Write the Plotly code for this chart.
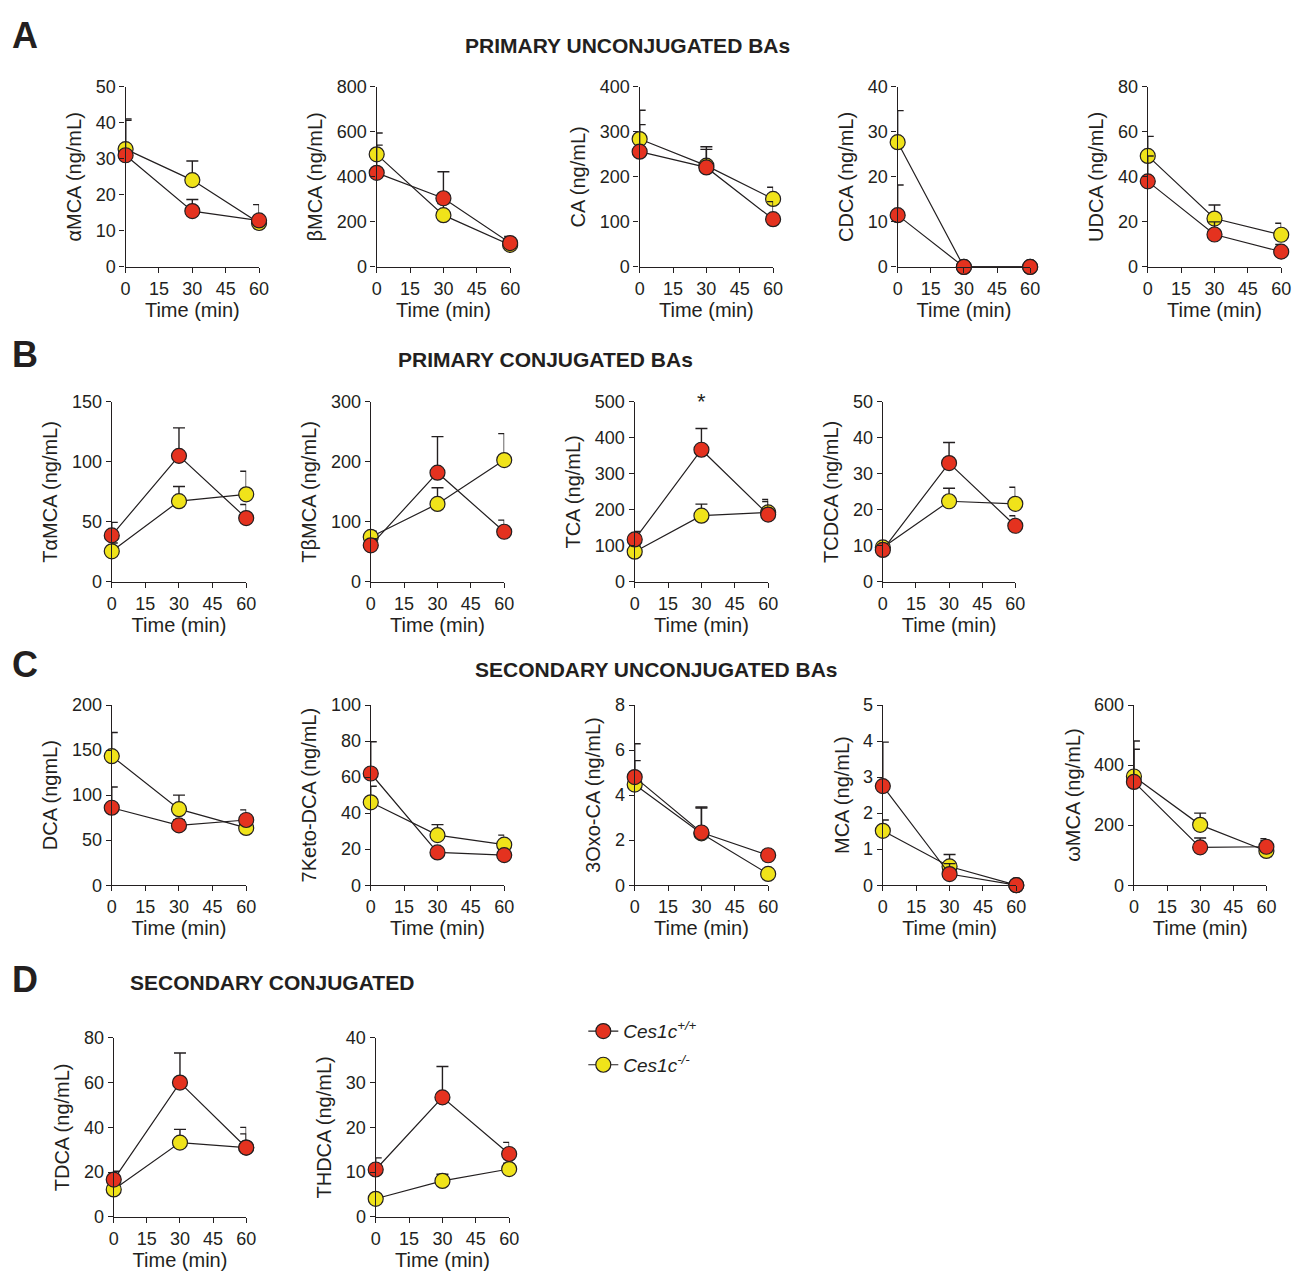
import plotly.graph_objects as go

W, H = 1310, 1288
INK = "#231F20"
RED = "#E4321F"
YEL = "#F0E31A"
FONT = "Liberation Sans, Arial, sans-serif"

TIME = [0, 30, 60]
TIME_TICKS = [0, 15, 30, 45, 60]

# ---- data: means and SEM (upper error) ----
aMCA_wt = [31.0, 15.5, 12.9];   aMCA_wt_sem = [9.7, 3.2, 4.4]
aMCA_ko = [32.7, 24.1, 12.2];   aMCA_ko_sem = [8.4, 5.3, 1.8]
bMCA_wt = [418, 305, 106];      bMCA_wt_sem = [123, 118, 29]
bMCA_ko = [500, 230, 98];       bMCA_ko_sem = [95, 52, 8]
CA_wt = [256, 221, 106];        CA_wt_sem = [60, 40, 39]
CA_ko = [284, 225, 151];        CA_ko_sem = [64, 42, 26]
CDCA_wt = [11.5, 0, 0];         CDCA_wt_sem = [6.7, 0, 0]
CDCA_ko = [27.7, 0, 0];         CDCA_ko_sem = [7.0, 0, 0]
UDCA_wt = [38.0, 14.4, 6.8];    UDCA_wt_sem = [11.3, 5.6, 3.2]
UDCA_ko = [49.3, 21.5, 14.3];   UDCA_ko_sem = [8.7, 6.0, 5.1]

TaMCA_wt = [38.8, 105, 53.2];   TaMCA_wt_sem = [10.8, 23.3, 11.3]
TaMCA_ko = [25.5, 67.3, 73.0];  TaMCA_ko_sem = [7.0, 12.2, 19.2]
TbMCA_wt = [61, 182, 83.6];     TbMCA_wt_sem = [11, 60, 19.4]
TbMCA_ko = [75, 130, 203];      TbMCA_ko_sem = [9.6, 27, 44]
TCA_wt = [118, 367, 187];       TCA_wt_sem = [22, 59, 42]
TCA_ko = [84, 184, 193];        TCA_ko_sem = [16, 32, 30]
TCDCA_wt = [8.9, 33.0, 15.6];   TCDCA_wt_sem = [1.0, 5.7, 2.8]
TCDCA_ko = [9.6, 22.4, 21.7];   TCDCA_ko_sem = [0.8, 3.6, 4.6]

DCA_wt = [86, 66.4, 72.4];      DCA_wt_sem = [23, 6, 11.2]
DCA_ko = [143.3, 84.4, 63.6];   DCA_ko_sem = [26.2, 15.6, 12]
KDCA_wt = [62, 18.2, 16.7];     KDCA_wt_sem = [17.6, 1.5, 2.0]
KDCA_ko = [46, 27.8, 22.5];     KDCA_ko_sem = [8.9, 5.8, 5.3]
OXO_wt = [4.8, 2.34, 1.33];     OXO_wt_sem = [1.48, 1.13, 0.1]
OXO_ko = [4.47, 2.30, 0.5];     OXO_ko_sem = [1.06, 1.13, 0.05]
MCA_wt = [2.75, 0.31, 0];       MCA_wt_sem = [1.22, 0.29, 0]
MCA_ko = [1.51, 0.52, 0];       MCA_ko_sem = [0.3, 0.33, 0]
wMCA_wt = [344, 126, 128];      wMCA_wt_sem = [109, 31, 27]
wMCA_ko = [362, 201, 114];      wMCA_ko_sem = [118, 39, 35]

TDCA_wt = [16.7, 60, 31];       TDCA_wt_sem = [3.7, 13.2, 9]
TDCA_ko = [12.3, 33.2, 31];     TDCA_ko_sem = [1.5, 5.9, 6.1]
THDCA_wt = [10.6, 26.7, 14.06]; THDCA_wt_sem = [2.6, 6.9, 2.6]
THDCA_ko = [4.06, 8.04, 10.7];  THDCA_ko_sem = [0.3, 1.5, 1.3]

# panel: (y title, ymax, dtick, wt, wt_sem, ko, ko_sem)
panels = [
    ("αMCA (ng/mL)", 50, 10, aMCA_wt, aMCA_wt_sem, aMCA_ko, aMCA_ko_sem),
    ("βMCA (ng/mL)", 800, 200, bMCA_wt, bMCA_wt_sem, bMCA_ko, bMCA_ko_sem),
    ("CA (ng/mL)", 400, 100, CA_wt, CA_wt_sem, CA_ko, CA_ko_sem),
    ("CDCA (ng/mL)", 40, 10, CDCA_wt, CDCA_wt_sem, CDCA_ko, CDCA_ko_sem),
    ("UDCA (ng/mL)", 80, 20, UDCA_wt, UDCA_wt_sem, UDCA_ko, UDCA_ko_sem),
    ("TαMCA (ng/mL)", 150, 50, TaMCA_wt, TaMCA_wt_sem, TaMCA_ko, TaMCA_ko_sem),
    ("TβMCA (ng/mL)", 300, 100, TbMCA_wt, TbMCA_wt_sem, TbMCA_ko, TbMCA_ko_sem),
    ("TCA (ng/mL)", 500, 100, TCA_wt, TCA_wt_sem, TCA_ko, TCA_ko_sem),
    ("TCDCA (ng/mL)", 50, 10, TCDCA_wt, TCDCA_wt_sem, TCDCA_ko, TCDCA_ko_sem),
    ("DCA (ngmL)", 200, 50, DCA_wt, DCA_wt_sem, DCA_ko, DCA_ko_sem),
    ("7Keto-DCA (ng/mL)", 100, 20, KDCA_wt, KDCA_wt_sem, KDCA_ko, KDCA_ko_sem),
    ("3Oxo-CA (ng/mL)", 8, 2, OXO_wt, OXO_wt_sem, OXO_ko, OXO_ko_sem),
    ("MCA (ng/mL)", 5, 1, MCA_wt, MCA_wt_sem, MCA_ko, MCA_ko_sem),
    ("ωMCA (ng/mL)", 600, 200, wMCA_wt, wMCA_wt_sem, wMCA_ko, wMCA_ko_sem),
    ("TDCA (ng/mL)", 80, 20, TDCA_wt, TDCA_wt_sem, TDCA_ko, TDCA_ko_sem),
    ("THDCA (ng/mL)", 40, 10, THDCA_wt, THDCA_wt_sem, THDCA_ko, THDCA_ko_sem),
]

# layout boxes in pixels: (x_left, x_right, y_top, y_bottom)
rowA = (78, 261); rowB = (398, 581); rowC = (706, 889); rowD = (1044, 1226)
boxes = [
    (122, 257) + rowA, (376, 511) + rowA, (642, 777) + rowA, (903, 1037) + rowA, (1156, 1291) + rowA,
    (108, 244) + rowB, (370, 505) + rowB, (637, 772) + rowB, (888, 1022) + rowB,
    (108, 244) + rowC, (370, 505) + rowC, (637, 772) + rowC, (888, 1023) + rowC, (1142, 1276) + rowC,
    (110, 244) + rowD, (375, 510) + rowD,
]

fig = go.Figure()
layout = {}
for i, (p, b) in enumerate(zip(panels, boxes)):
    title, ymax, dtick, wt, wts, ko, kos = p
    n = "" if i == 0 else str(i + 1)
    xa, ya = "x" + n, "y" + n
    x0, x1, yt, yb = b
    for name, vals, sem, col, rank in (
        ("<i>Ces1c<sup>-/-</sup></i>", ko, kos, YEL, 2),
        ("<i>Ces1c<sup>+/+</sup></i>", wt, wts, RED, 1),
    ):
        fig.add_trace(go.Scatter(
            x=TIME, y=vals, mode="lines+markers", name=name,
            xaxis=xa, yaxis=ya, cliponaxis=False,
            showlegend=(i == 0), legendrank=rank, legendgroup=str(rank),
            line=dict(color=INK, width=1.2),
            marker=dict(size=15, color=col, line=dict(color=INK, width=1.2)),
            error_y=dict(type="data", symmetric=False, array=sem,
                         arrayminus=[0] * len(sem), color=INK,
                         thickness=1.4, width=6),
        ))
    layout["xaxis" + n] = dict(
        domain=[x0 / W, x1 / W], range=[0, 60], anchor=ya,
        tickvals=TIME_TICKS, ticks="outside", ticklen=5, tickwidth=1.4,
        tickcolor=INK, showline=True, linecolor=INK, linewidth=1.4,
        showgrid=False, zeroline=False,
        tickfont=dict(family=FONT, size=18, color=INK),
        title=dict(text="Time (min)", font=dict(family=FONT, size=20, color=INK), standoff=4),
    )
    layout["yaxis" + n] = dict(
        domain=[1 - yb / H, 1 - yt / H], range=[0, ymax], anchor=xa,
        tick0=0, dtick=dtick, ticks="outside", ticklen=5, tickwidth=1.4,
        tickcolor=INK, showline=True, linecolor=INK, linewidth=1.4,
        showgrid=False, zeroline=False,
        tickfont=dict(family=FONT, size=18, color=INK),
        title=dict(text=title, font=dict(family=FONT, size=20, color=INK), standoff=8),
    )

ann = []
for letter, py in (("A", 26), ("B", 350), ("C", 665), ("D", 985)):
    ann.append(dict(text="<b>%s</b>" % letter, x=20 / W, y=1 - py / H, xref="paper", yref="paper",
                    showarrow=False, font=dict(family=FONT, size=36, color=INK),
                    xanchor="center", yanchor="middle"))
for txt, px, py, xan in (("PRIMARY UNCONJUGATED BAs", 630, 36, "center"),
                         ("PRIMARY CONJUGATED BAs", 547, 355, "center"),
                         ("SECONDARY UNCONJUGATED BAs", 659, 670, "center"),
                         ("SECONDARY CONJUGATED", 124, 988, "left")):
    ann.append(dict(text="<b>%s</b>" % txt, x=px / W, y=1 - py / H, xref="paper", yref="paper",
                    showarrow=False, font=dict(family=FONT, size=21, color=INK),
                    xanchor=xan, yanchor="middle"))
ann.append(dict(text="*", x=30, y=500, xref="x8", yref="y8", showarrow=False,
                font=dict(family=FONT, size=22, color=INK), yanchor="middle"))

fig.update_layout(
    width=W, height=H, margin=dict(l=0, r=0, t=0, b=0),
    paper_bgcolor="white", plot_bgcolor="white",
    annotations=ann,
    legend=dict(x=585 / W, y=1 - 1018 / H, xanchor="left", yanchor="top",
                font=dict(family=FONT, size=19, color=INK),
                traceorder="grouped", tracegroupgap=6, itemwidth=30,
                bgcolor="rgba(0,0,0,0)"),
    **layout,
)
fig.write_html("out.html")
